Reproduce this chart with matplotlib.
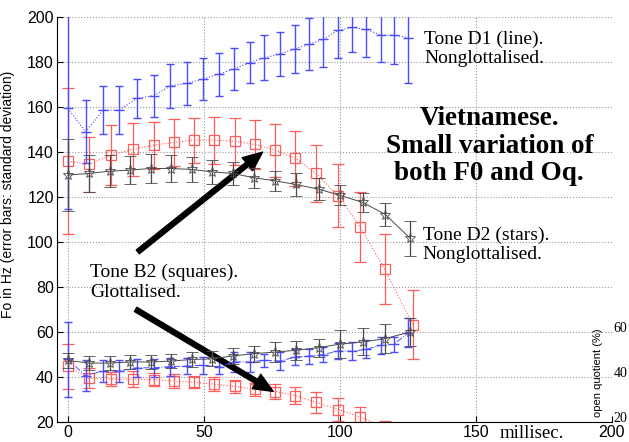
import matplotlib
matplotlib.use('Agg')
import matplotlib.pyplot as plt

# time axis (ms) for each series
blue_t = [0, 6.5, 12.9, 18.8, 25.4, 31.5, 37.6, 43.8, 49.6, 55.4, 61, 66.8,
          72.3, 78.1, 83.5, 88.6, 94, 99.3, 104.6, 109.7, 115, 119.9, 125.2]
star_t = [0, 7.7, 15.3, 22.7, 30.4, 38, 45.6, 53.1, 60.7, 68.4, 76.3, 83.8,
          92.3, 99.9, 108.5, 116.8, 125.9]
red_t = [0, 7.7, 15.7, 23.9, 31.5, 38.9, 46.3, 53.9, 61.3, 68.9, 76.3, 83.7,
         91.3, 99.5, 107.5, 116.5, 126.8]

# Tone D1 (line): F0 and open quotient
d1_f0 = [159.5, 149, 158.7, 158.7, 163.9, 165.1, 169.4, 170.6, 172.4, 174.7, 177, 179.8,
         182, 183.7, 186, 188, 190.2, 194.2, 195.5, 194.6, 192.1, 192.1, 190.9]
d1_f0_sd = [45, 14, 10.7, 10.8, 8.5, 9.4, 9.8, 9.5, 9.4, 9.6, 9.5, 9,
            10, 9.7, 10.6, 11.5, 12.5, 12.5, 11, 12.4, 12, 13, 20]
d1_oq = [47.7, 40.5, 42.5, 42.6, 44, 44, 44.5, 44.8, 45.1, 44.4, 46.6, 46.6,
         47.3, 47, 48.8, 49.2, 49.9, 51.5, 51.4, 52.2, 54, 54.4, 59.6]
d1_oq_sd = [16.7, 6.8, 4.8, 5, 4, 4, 4, 3.4, 3.7, 3, 4.5, 4.5,
            3, 4, 3.7, 3.3, 3.4, 3.4, 4, 4, 3.7, 3.4, 6.4]

# Tone D2 (stars)
d2_f0 = [129.8, 130.5, 131.5, 132, 132.7, 132.7, 132.3, 131.2, 130.5, 128.6, 127.2, 125.6,
         123.5, 120.8, 117.6, 112.2, 101.6]
d2_f0_sd = [16, 8.3, 7, 6.4, 6.4, 6, 5.7, 5.5, 5.2, 4.5, 4.5, 5.2, 5, 4.5, 4.3, 5, 7.8]
d2_oq = [47.3, 46.1, 46.1, 46.6, 46.6, 47, 47.7, 48, 49.3, 50.3, 51, 51.8,
         53, 54.5, 55.5, 57, 60]
d2_oq_sd = [3.5, 3.2, 3.3, 3.3, 3, 3.3, 3.5, 3.3, 3.5, 3.5, 4.3, 4.3, 4, 6.3, 6, 6.5, 6.3]

# Tone B2 (squares)
b2_f0 = [136, 134.5, 138.7, 141.2, 143.1, 144.3, 145.3, 145.3, 144.9, 143.4, 140.9, 137.2,
         130.5, 120.5, 106.7, 87.9, 63.2]
b2_f0_sd = [32.4, 12.4, 13.3, 11.7, 10.5, 10.3, 10, 10.4, 10.5, 10.8, 11.8, 12.4,
            12.8, 14, 15.5, 15.5, 15.5]
b2_oq = [44.7, 39.3, 39, 38.9, 38.7, 38.1, 37.6, 36.7, 35.7, 34.4, 33.4, 31.6,
         28.6, 25.4, 22.1, 17.5, 14]
b2_oq_sd = [10, 4.5, 3, 3.5, 3, 3, 2.8, 3, 3, 3, 3.2, 3.7, 4.8, 5, 4.5, 3, 3]

x_ticks = [0, 50, 100, 150, 200]
x_ticklabels = ['0', '50', '100', '150', '200']
y_ticks = [20, 40, 60, 80, 100, 120, 140, 160, 180, 200]
oq_ticks = [20, 40, 60]

BLUE = '#4b4bff'
RED = '#ff5c5c'
DARK = '#4a4a4a'
SERIF = 'Liberation Serif'

plt.rcParams['font.family'] = 'Liberation Sans'

fig = plt.figure(figsize=(6.29, 4.42), dpi=100)
ax = fig.add_axes([0.0911, 0.0459, 0.8814, 0.9149])

# blue: Tone D1
ax.errorbar(blue_t, d1_f0, yerr=d1_f0_sd, color=BLUE, ls=':', lw=0.8, marker='_', ms=7,
            mew=1, elinewidth=1, capsize=3, capthick=1, zorder=3)
ax.errorbar(blue_t, d1_oq, yerr=d1_oq_sd, color=BLUE, ls='-.', lw=0.7, marker='_', ms=7,
            mew=1, elinewidth=1, capsize=3, capthick=1, zorder=3)

# red: Tone B2
ax.errorbar(red_t, b2_f0, yerr=b2_f0_sd, color=RED, ls=':', lw=0.8, marker='s', ms=7,
            mfc='none', mec=RED, mew=0.9, elinewidth=0.9, capsize=4, capthick=0.9, zorder=2)
ax.errorbar(red_t, b2_oq, yerr=b2_oq_sd, color=RED, ls=':', lw=0.8, marker='s', ms=7,
            mfc='none', mec=RED, mew=0.9, elinewidth=0.9, capsize=4, capthick=0.9, zorder=2)

# dark: Tone D2
ax.errorbar(star_t, d2_f0, yerr=d2_f0_sd, color=DARK, ls='-', lw=0.7, marker='*', ms=8,
            mfc='none', mec=DARK, mew=0.6, elinewidth=0.9, capsize=4, capthick=0.9, zorder=4)
ax.errorbar(star_t, d2_oq, yerr=d2_oq_sd, color=DARK, ls='-', lw=0.7, marker='*', ms=8,
            mfc='none', mec=DARK, mew=0.6, elinewidth=0.9, capsize=4, capthick=0.9, zorder=4)

ax.set_xlim(-3.9, 200)
ax.set_ylim(20, 200)
ax.set_xticks(x_ticks)
ax.set_xticklabels(x_ticklabels)
ax.set_yticks(y_ticks)
ax.tick_params(direction='in', length=4, width=0.8, labelsize=11.5, pad=2.5)
ax.grid(True, ls=':', color='#999999', lw=0.8)
ax.spines['top'].set_visible(False)
ax.spines['right'].set_visible(False)
ax.set_ylabel('Fo in Hz (error bars: standard deviation)', fontsize=10)
ax.yaxis.set_label_coords(-0.076, 0.563)

# annotations
ax.text(131.1, 186, 'Tone D1 (line).\nNonglottalised.', family=SERIF, fontsize=14,
        ha='left', va='center', linespacing=1.2)
ax.text(155, 142.7, 'Vietnamese.\nSmall variation of\nboth F0 and Oq.', family=SERIF,
        fontsize=19.5, weight='bold', ha='center', va='center', linespacing=1.15)
ax.text(130.5, 98.7, 'Tone D2 (stars).\nNonglottalised.', family=SERIF, fontsize=14,
        ha='left', va='center', linespacing=1.2)
ax.text(8.2, 82.1, 'Tone B2 (squares).\nGlottalised.', family=SERIF, fontsize=14,
        ha='left', va='center', linespacing=1.2)

arrow = dict(facecolor='black', edgecolor='black', width=3.5, headwidth=12, headlength=14, shrink=0)
ax.annotate('', xy=(71.6, 140), xytext=(25.7, 95.6), arrowprops=arrow)
ax.annotate('', xy=(75.5, 33.5), xytext=(24.9, 70), arrowprops=arrow)

ax.text(158.7, -0.029, 'millisec.', family=SERIF, fontsize=13.5, ha='left', va='center',
        transform=ax.get_xaxis_transform(), clip_on=False)

# open quotient axis labels on the right
ytr = ax.get_yaxis_transform()
for v in oq_ticks:
    ax.text(1.003, v + 1.3, str(v), family=SERIF, fontsize=10, ha='left', va='center',
            transform=ytr, clip_on=False)
ax.text(0.975, 42, 'open quotient (%)', fontsize=8, rotation=90, ha='center', va='center',
        transform=ytr)

fig.savefig('out.png', dpi=100)
